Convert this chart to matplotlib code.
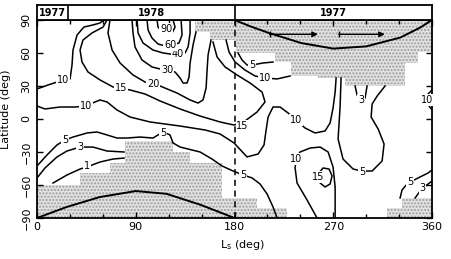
import matplotlib
matplotlib.use("Agg")
import matplotlib.pyplot as plt
from matplotlib.ticker import MultipleLocator

plt.rcParams['font.family'] = ['DejaVu Sans']

# contour lines, (Ls deg, latitude deg)
c10_upper_ls = [0, 10, 18.2, 30.1, 31.9, 32.8, 36.5, 42.8, 51, 57.4, 61.1]
c10_upper_lat = [27.3, 30.9, 33.6, 36.4, 49.1, 62.7, 76.4, 83.6, 85.5, 87.3, 90]

c15_ls = [63.8, 60.2, 50.1, 41.9, 39.2, 41, 46.5, 57.4, 69.3, 84.8, 98.5, 112.1, 130.4,
          148.6, 166.8, 179.6, 189.6, 200.6, 207.8, 205.1, 194.2, 182.3, 171.4, 164.1, 160.4]
c15_lat = [90, 83.6, 78.2, 71.8, 62.7, 51.8, 42.7, 35.5, 29.1, 26.4, 22.7, 16.4, 9.1,
           2.7, -2.7, -5.5, -1.8, 6.4, 15.5, 24.5, 32.7, 40, 47.3, 56.4, 70]

c20_ls = [66.5, 64.7, 68.4, 75.7, 87.5, 98.5, 105.7, 112.1, 127.6, 139.5, 146.8, 151.3,
          154.1, 155, 155.9, 158.6]
c20_lat = [90, 78.2, 62.7, 50.9, 40, 33.6, 31.8, 30, 23.6, 17.3, 14.5, 17.3, 28.2, 44.5,
           58.2, 71.8]

c30_ls = [86.6, 87.5, 89.3, 95.7, 104.8, 112.1, 118.5, 125.8, 130.4, 133.1, 136.7, 138.6,
          139.5, 142.2, 144.9]
c30_lat = [90, 78.2, 65.5, 53.6, 47.3, 45.5, 44.5, 42.7, 37.3, 32.7, 32.7, 38.2, 50.9,
           67.3, 79.1]

c40_ls = [91.2, 92.1, 96.6, 105.7, 114.9, 121.2, 128.5, 134.9, 137.7, 139.5, 139.5]
c40_lat = [90, 78.2, 69.1, 62.7, 60, 59.1, 59.1, 60, 65.5, 78.2, 90]

c60_ls = [100.3, 101.2, 104.8, 110.3, 116.7, 123.1, 129.4, 132.2, 131.3]
c60_lat = [90, 80.9, 73.6, 68.2, 66.4, 67.3, 69.1, 76.4, 90]

c90_ls = [109.4, 110.3, 114.9, 123.1, 125.8, 124]
c90_lat = [90, 83.6, 78.2, 78.2, 83.6, 90]

c10_low_ls = [0, 7.3, 21, 34.6, 44.7, 52.9, 57.4, 63.8, 72.9, 84.8, 103, 130.4, 153.2,
              166.8, 179.6, 191.4, 201.5, 206.9, 208.8, 210.6, 215.1, 221.5, 228.8,
              236.1, 244.3, 253.4, 262.5, 267.1, 269.8, 271.7, 272.6]
c10_low_lat = [11.8, 9.1, 10.9, 10.9, 11.8, 15.5, 17.3, 15.5, 8.2, 1.8, -2.7, -6.4, -10,
               -13.6, -21.8, -34.5, -31.8, -23.6, -10, 1.8, 10.9, 10.9, 5.5, -0.9, -8.2,
               -12.7, -10.9, -3.6, 10, 24.5, 37.3]

c10_top_ls = [172.3, 175, 180.5, 189.6, 198.7, 207.8, 218.8, 230.6]
c10_top_lat = [71.8, 60.9, 51.8, 44.5, 39.1, 37.3, 36.4, 39.1]

c5_top_ls = [183.2, 186.9, 191.4, 196, 206, 215.1]
c5_top_lat = [60, 53.6, 49.1, 49.1, 50.9, 51.8]

c5_ls = [0, 9.1, 18.2, 25.5, 32.8, 45.6, 54.7, 63.8, 72.9, 82, 93.9, 105.7, 110.3, 114.9,
         121.2, 124, 130.4, 148.6, 159.5, 168.6, 178.7, 187.8, 196, 203.3, 209.7, 215.1,
         218.8]
c5_lat = [-42.7, -32.7, -23.6, -19.1, -16.4, -12.7, -11.8, -14.5, -17.3, -17.3, -16.4,
          -17.3, -14.5, -11.8, -14.5, -21.8, -25.5, -30, -36.4, -42.7, -47.3, -50.9, -53.6,
          -59.1, -68.2, -80, -90]

c3_ls = [0, 7.3, 18.2, 27.3, 39.2, 51, 63.8, 79.3]
c3_lat = [-53.6, -44.5, -34.5, -29.1, -25.5, -25.5, -29.1, -30]

c1_ls = [14.6, 27.3, 39.2, 45.6, 57.4, 69.3, 79.3]
c1_lat = [-58.2, -50.9, -45.5, -43.6, -39.1, -36.4, -35.5]

c5_loop_ls = [277.1, 276.2, 274.4, 278.9, 288.1, 296.3, 305.4, 314.5, 316.3, 310.9, 304.5,
              305.4, 310, 317.2]
c5_loop_lat = [37.3, 10.9, -18.2, -36.4, -45.5, -47.3, -47.3, -38.2, -22.7, -9.1, 1.8,
               13.6, 20.9, 30]

c3_small_ls = [289.9, 291.7, 295.4, 299, 300.8]
c3_small_lat = [30, 21.8, 17.3, 19.1, 30]

c10_right_ls = [360, 356.4, 355.5, 357.3, 360]
c10_right_lat = [26.4, 22.7, 17.3, 11.8, 8.2]

c10_loop_ls = [255.2, 246.1, 237, 235.2, 236.1, 239.7, 248.9, 258, 265.3, 269.8, 271.7, 271.7]
c10_loop_lat = [-90, -73.6, -58.2, -44.5, -36.4, -30, -26.4, -25.5, -30, -43.6, -61.8, -90]

c15_loop_ls = [256.2, 260.7, 266.2, 268.9, 267.1, 262.5, 258, 256.2]
c15_loop_lat = [-50, -44.5, -45.5, -51.8, -59.1, -61.8, -58.2, -50]

c5_br_ls = [330.9, 332.7, 337.3, 340, 349.1, 356.4, 360]
c5_br_lat = [-71.8, -64.5, -59.1, -57.3, -52.7, -49.1, -46.4]

c3_br_ls = [344.6, 349.1, 351.9, 356.4, 360]
c3_br_lat = [-71.8, -65.5, -62.7, -59.1, -56.4]

contour_labels = [
    (23.7, 35.5, "10"), (76.6, 28.2, "15"), (105.7, 31.8, "20"), (118.5, 44.5, "30"),
    (128.5, 59.1, "40"), (121.2, 67.3, "60"), (117.6, 81.8, "90"), (44.7, 11.8, "10"),
    (187.3, -6.4, "15"), (236.1, -0.9, "10"), (207.8, 37.3, "10"), (196, 49.1, "5"),
    (25.5, -19.1, "5"), (114.9, -12.7, "5"), (187.8, -50.9, "5"), (39.2, -25.5, "3"),
    (45.6, -42.7, "1"), (296.3, -48.2, "5"), (295.4, 17.3, "3"), (355.8, 17.3, "10"),
    (236.1, -36.4, "10"), (256.2, -52.7, "15"), (340, -57.3, "5"), (351, -62.7, "3"),
]

# dotted (grey) regions
shade_top_ls = [144, 360, 360, 347.3, 347.3, 335.5, 335.5, 280.5, 280.5, 256.2, 256.2,
                231.5, 231.5, 217, 217, 181.4, 181.4, 157.7, 157.7, 144]
shade_top_lat = [90, 90, 60.9, 60.9, 50.9, 50.9, 30, 30, 37.3, 37.3, 39.1, 39.1, 51.8,
                 51.8, 60, 60, 71.8, 71.8, 79.1, 79.1]
shade_bl_ls = [0, 0, 39.2, 39.2, 66.5, 66.5, 80.2, 80.2, 124, 124, 139.5, 139.5, 168.6,
               168.6, 200.6, 200.6, 227.9, 227.9]
shade_bl_lat = [-90, -60, -60, -49.1, -49.1, -40, -40, -20, -20, -30, -30, -40, -40,
                -71.8, -71.8, -80.9, -80.9, -90]
shade_br_ls = [319.1, 319.1, 332.7, 332.7, 360, 360]
shade_br_lat = [-90, -80.9, -80.9, -71.8, -71.8, -90]

# polar night boundaries
night_n_ls = [180, 195, 212, 241, 270, 300, 331, 349, 360]
night_n_lat = [90, 84, 78, 69, 64, 66, 74, 83, 90]
night_s_ls = [0, 27, 57, 90, 118, 149, 180]
night_s_lat = [-90, -80, -71, -65.5, -68, -78, -90]

arrow_starts = [212, 275]
arrow_ends = [256, 317]
arrow_lat = 77

years = ["1977", "1978", "1977"]
year_edges = [0, 28, 180, 360]

fig = plt.figure(figsize=(4.52, 2.59), dpi=100)
ax = fig.add_axes([0.0819, 0.1583, 0.8739, 0.7645])

for ls, lat in [(shade_top_ls, shade_top_lat), (shade_bl_ls, shade_bl_lat),
                (shade_br_ls, shade_br_lat)]:
    ax.fill(ls, lat, facecolor='#e2e2e2', edgecolor='#9c9c9c', hatch='.....',
            linewidth=0, zorder=1)

lines = [
    (c10_upper_ls, c10_upper_lat), (c15_ls, c15_lat), (c20_ls, c20_lat),
    (c30_ls, c30_lat), (c40_ls, c40_lat), (c60_ls, c60_lat), (c90_ls, c90_lat),
    (c10_low_ls, c10_low_lat), (c10_top_ls, c10_top_lat), (c5_top_ls, c5_top_lat),
    (c5_ls, c5_lat), (c3_ls, c3_lat), (c1_ls, c1_lat), (c5_loop_ls, c5_loop_lat),
    (c3_small_ls, c3_small_lat), (c10_right_ls, c10_right_lat),
    (c10_loop_ls, c10_loop_lat), (c15_loop_ls, c15_loop_lat),
    (c5_br_ls, c5_br_lat), (c3_br_ls, c3_br_lat),
]
for ls, lat in lines:
    ax.plot(ls, lat, color='black', lw=1.1, solid_joinstyle='round', zorder=2)

for x, y, s in contour_labels:
    ax.text(x, y, s, fontsize=7, ha='center', va='center', zorder=3,
            bbox=dict(facecolor='white', edgecolor='none', pad=0.4))

ax.plot(night_n_ls, night_n_lat, color='black', lw=1.4, zorder=4)
ax.plot(night_s_ls, night_s_lat, color='black', lw=1.4, zorder=4)

for a, b in zip(arrow_starts, arrow_ends):
    ax.annotate("", xy=(b, arrow_lat), xytext=(a, arrow_lat),
                arrowprops=dict(arrowstyle='-|>', color='black', lw=1.0,
                                mutation_scale=8, shrinkA=0, shrinkB=0), zorder=5)
    ax.plot([a], [arrow_lat], marker='|', color='black', ms=5, mew=1.0, zorder=5)

ax.axvline(180, color='black', lw=1.1, ls=(0, (4, 3)), zorder=4)

ax.set_xlim(0, 360)
ax.set_ylim(-90, 90)
ax.xaxis.set_major_locator(MultipleLocator(90))
ax.xaxis.set_minor_locator(MultipleLocator(30))
ax.yaxis.set_major_locator(MultipleLocator(30))
ax.tick_params(which='both', direction='in', top=True, right=True, width=1.0)
ax.tick_params(which='major', length=4, labelsize=8, pad=3)
ax.tick_params(which='minor', length=3)
ax.tick_params(axis='y', which='major', pad=4)
for t in ax.get_yticklabels():
    t.set_rotation(90)
    t.set_va('center')
for sp in ax.spines.values():
    sp.set_linewidth(1.3)

ax.set_xlabel("L$_{\\rm s}$ (deg)", fontsize=8)
ax.xaxis.set_label_coords(0.52, -0.1)
ax.set_ylabel("Latitude (deg)", fontsize=8)
ax.yaxis.set_label_coords(-0.065, 0.55)

# header with years
hx = fig.add_axes([0.0819, 0.9228, 0.8739, 0.0579])
hx.set_xlim(0, 360)
hx.set_ylim(0, 1)
hx.set_xticks([])
hx.set_yticks([])
for sp in hx.spines.values():
    sp.set_linewidth(1.3)
for e in year_edges[1:-1]:
    hx.axvline(e, color='black', lw=1.2)
for i, yr in enumerate(years):
    hx.text((year_edges[i] + year_edges[i + 1]) / 2, 0.45, yr, fontsize=7,
            fontweight='bold', ha='center', va='center')

fig.savefig("out.png", dpi=100)
